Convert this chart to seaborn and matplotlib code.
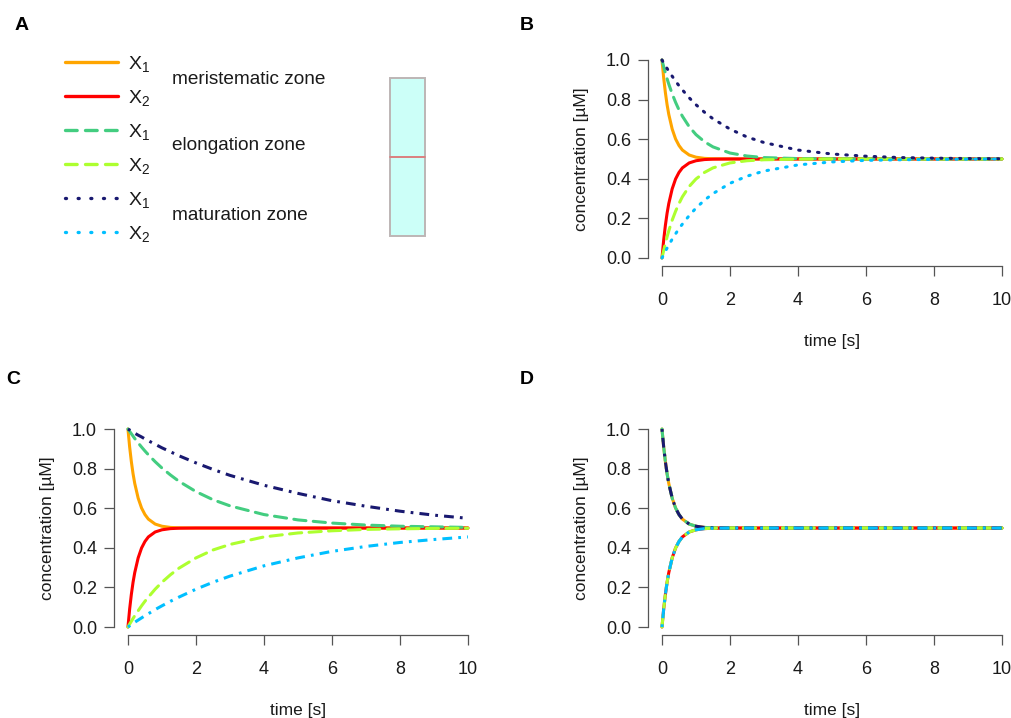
import pandas as pd
import seaborn as sns
import matplotlib.pyplot as plt
from matplotlib.lines import Line2D
from matplotlib.patches import Rectangle

sns.set_style('white')
plt.rcParams['font.family'] = ['Liberation Sans', 'DejaVu Sans']
plt.rcParams['mathtext.fontset'] = 'custom'
plt.rcParams['mathtext.rm'] = 'Liberation Sans'
plt.rcParams['mathtext.it'] = 'Liberation Sans'

# time points (s) at which the curves were read
time = [0, 0.05, 0.1, 0.15, 0.2, 0.3, 0.4, 0.5, 0.6, 0.8, 1.0, 1.25, 1.5,
        2, 2.5, 3, 4, 5, 6, 7, 8, 9, 10]

# meristematic zone (same in B, C and D)
mer_x1 = [1.0, 0.909, 0.835, 0.774, 0.725, 0.651, 0.601, 0.568, 0.545, 0.520, 0.509, 0.503, 0.501,
          0.500, 0.500, 0.500, 0.500, 0.500, 0.500, 0.500, 0.500, 0.500, 0.500]
mer_x2 = [0.0, 0.091, 0.165, 0.226, 0.275, 0.349, 0.399, 0.432, 0.455, 0.480, 0.491, 0.497, 0.499,
          0.500, 0.500, 0.500, 0.500, 0.500, 0.500, 0.500, 0.500, 0.500, 0.500]

# panel B
b_elo_x1 = [1.0, 0.966, 0.935, 0.905, 0.878, 0.829, 0.786, 0.748, 0.716, 0.663, 0.623, 0.587, 0.561,
            0.530, 0.515, 0.507, 0.502, 0.501, 0.500, 0.500, 0.500, 0.500, 0.500]
b_elo_x2 = [0.0, 0.038, 0.074, 0.107, 0.137, 0.191, 0.236, 0.275, 0.309, 0.361, 0.399, 0.432, 0.455,
            0.480, 0.491, 0.496, 0.499, 0.500, 0.500, 0.500, 0.500, 0.500, 0.500]
b_mat_x1 = [1.0, 0.985, 0.971, 0.957, 0.943, 0.918, 0.893, 0.870, 0.849, 0.809, 0.774, 0.736, 0.703,
            0.651, 0.611, 0.583, 0.545, 0.525, 0.514, 0.507, 0.504, 0.502, 0.501]
b_mat_x2 = [0.0, 0.017, 0.034, 0.050, 0.065, 0.095, 0.122, 0.148, 0.171, 0.214, 0.252, 0.292, 0.325,
            0.377, 0.413, 0.439, 0.470, 0.485, 0.493, 0.496, 0.498, 0.499, 0.500]

# panel C
c_elo_x1 = [1.0, 0.988, 0.976, 0.964, 0.952, 0.930, 0.909, 0.889, 0.870, 0.835, 0.803, 0.768, 0.736,
            0.684, 0.643, 0.612, 0.568, 0.541, 0.525, 0.515, 0.509, 0.506, 0.503]
c_elo_x2 = [0.0, 0.015, 0.029, 0.043, 0.057, 0.082, 0.107, 0.130, 0.151, 0.191, 0.226, 0.264, 0.297,
            0.349, 0.389, 0.417, 0.455, 0.475, 0.486, 0.493, 0.496, 0.498, 0.499]
c_mat_x1 = [1.0, 0.995, 0.990, 0.984, 0.979, 0.969, 0.960, 0.950, 0.941, 0.923, 0.905, 0.885, 0.865,
            0.829, 0.796, 0.766, 0.716, 0.675, 0.638, 0.610, 0.585, 0.565, 0.549]
c_mat_x2 = [0.0, 0.006, 0.012, 0.018, 0.024, 0.035, 0.046, 0.057, 0.067, 0.088, 0.107, 0.130, 0.151,
            0.191, 0.226, 0.257, 0.309, 0.349, 0.382, 0.407, 0.427, 0.442, 0.455]

series = ['mer_x1', 'mer_x2', 'elo_x1', 'elo_x2', 'mat_x1', 'mat_x2']
colors = {'mer_x1': '#FFA500', 'mer_x2': '#FF0000', 'elo_x1': '#43CD80',
          'elo_x2': '#ADFF2F', 'mat_x1': '#191970', 'mat_x2': '#00BFFF'}
zones = ['meristematic zone', 'elongation zone', 'maturation zone']
legend_labels = [r'$\mathregular{X_1}$', r'$\mathregular{X_2}$'] * 3

dashed = (4, 2.4)
dotted = (0.5, 2.6)
dotdash = (0.9, 2.0, 3.2, 2.0)
dashes_b = {'mer_x1': '', 'mer_x2': '', 'elo_x1': dashed, 'elo_x2': dashed,
            'mat_x1': dotted, 'mat_x2': dotted}
dashes_c = {'mer_x1': '', 'mer_x2': '', 'elo_x1': dashed, 'elo_x2': dashed,
            'mat_x1': dotdash, 'mat_x2': dotdash}


def long_df(cols):
    frames = []
    for name, vals in zip(series, cols):
        frames.append(pd.DataFrame({'time': time, 'conc': vals, 'series': name}))
    return pd.concat(frames, ignore_index=True)


df_b = long_df([mer_x1, mer_x2, b_elo_x1, b_elo_x2, b_mat_x1, b_mat_x2])
df_c = long_df([mer_x1, mer_x2, c_elo_x1, c_elo_x2, c_mat_x1, c_mat_x2])
df_d = long_df([mer_x1, mer_x2, mer_x1, mer_x2, mer_x1, mer_x2])

fig = plt.figure(figsize=(10.12, 7.18), dpi=100)
w, h = 0.3628, 0.2978
ax_b = fig.add_axes([0.6407, 0.6297, w, h])
ax_c = fig.add_axes([0.1130, 0.1157, w, h])
ax_d = fig.add_axes([0.6407, 0.1157, w, h])

text_col = '#1a1a1a'
axis_col = '#555555'

for ax, df, dsh in [(ax_b, df_b, dashes_b), (ax_c, df_c, dashes_c), (ax_d, df_d, dashes_c)]:
    sns.lineplot(data=df, x='time', y='conc', hue='series', style='series',
                 hue_order=series, style_order=series, palette=colors, dashes=dsh,
                 estimator=None, sort=False, lw=2.2, legend=False, ax=ax)
    # dot-dash lines look crisper with flat dash ends
    for ln in ax.get_lines():
        if ln.get_color() in ('#191970', '#00BFFF') and dsh is dashes_c:
            ln.set_dash_capstyle('butt')
        else:
            ln.set_dash_capstyle('round')
    ax.set_xlim(-0.4, 10.4)
    ax.set_ylim(-0.04, 1.04)
    ax.set_xticks([0, 2, 4, 6, 8, 10])
    ax.set_yticks([0, 0.2, 0.4, 0.6, 0.8, 1.0])
    ax.set_yticklabels(['0.0', '0.2', '0.4', '0.6', '0.8', '1.0'])
    for s in ['top', 'right']:
        ax.spines[s].set_visible(False)
    ax.spines['left'].set_bounds(0, 1)
    ax.spines['bottom'].set_bounds(0, 10)
    for s in ['left', 'bottom']:
        ax.spines[s].set_color(axis_col)
        ax.spines[s].set_linewidth(0.9)
    ax.tick_params(axis='both', direction='out', length=7.5, width=0.9, color=axis_col,
                   labelsize=13, labelcolor=text_col, left=True, bottom=True)
    ax.tick_params(axis='x', pad=11)
    ax.tick_params(axis='y', pad=5)
    ax.set_xlabel('time [s]', fontsize=12.5, color=text_col, labelpad=18)
    ax.set_ylabel('concentration [µM]', fontsize=12.5, color=text_col, labelpad=12)
    ax.patch.set_alpha(0)

# panel A: legend and root schematic
ax_a = fig.add_axes([0, 0.5, 0.5, 0.5])
ax_a.set_xlim(0, 506)
ax_a.set_ylim(359, 0)
ax_a.axis('off')

leg_dashes = {'mer_x1': None, 'mer_x2': None, 'elo_x1': (3.5, 2.5), 'elo_x2': (3.5, 2.5),
              'mat_x1': (0.3, 3.5), 'mat_x2': (0.3, 3.5)}
handles = []
for s in series:
    ln = Line2D([], [], color=colors[s], lw=2.4, dash_capstyle='round', solid_capstyle='round')
    if leg_dashes[s] is not None:
        ln.set_dashes(leg_dashes[s])
    handles.append(ln)
ax_a.legend(handles, legend_labels, loc='upper left', bbox_to_anchor=(65, 54),
            bbox_transform=ax_a.transData, frameon=False, fontsize=14,
            handlelength=2.75, handletextpad=0.5, labelspacing=0.715,
            borderpad=0, borderaxespad=0, labelcolor=text_col)

for name, y in zip(zones, [79, 146, 215]):
    ax_a.text(172, y, name, fontsize=13.7, color=text_col, va='center', ha='left')

ax_a.add_patch(Rectangle((390.5, 77.5), 35, 79, facecolor='#CCFFF8', edgecolor='#BDB5B5', lw=1.4))
ax_a.add_patch(Rectangle((390.5, 156.5), 35, 79, facecolor='#CCFFF8', edgecolor='#BDB5B5', lw=1.4))
ax_a.plot([390.5, 425.5], [156.5, 156.5], color='#E07878', lw=1.2)

# panel letters
for letter, x, y in [('A', 22, 25), ('B', 527, 25), ('C', 13, 380), ('D', 527, 380)]:
    fig.text(x / 1012, 1 - y / 718, letter, fontsize=14, fontweight='bold',
             ha='center', va='center', color='black')

fig.savefig('out.png', dpi=100)
